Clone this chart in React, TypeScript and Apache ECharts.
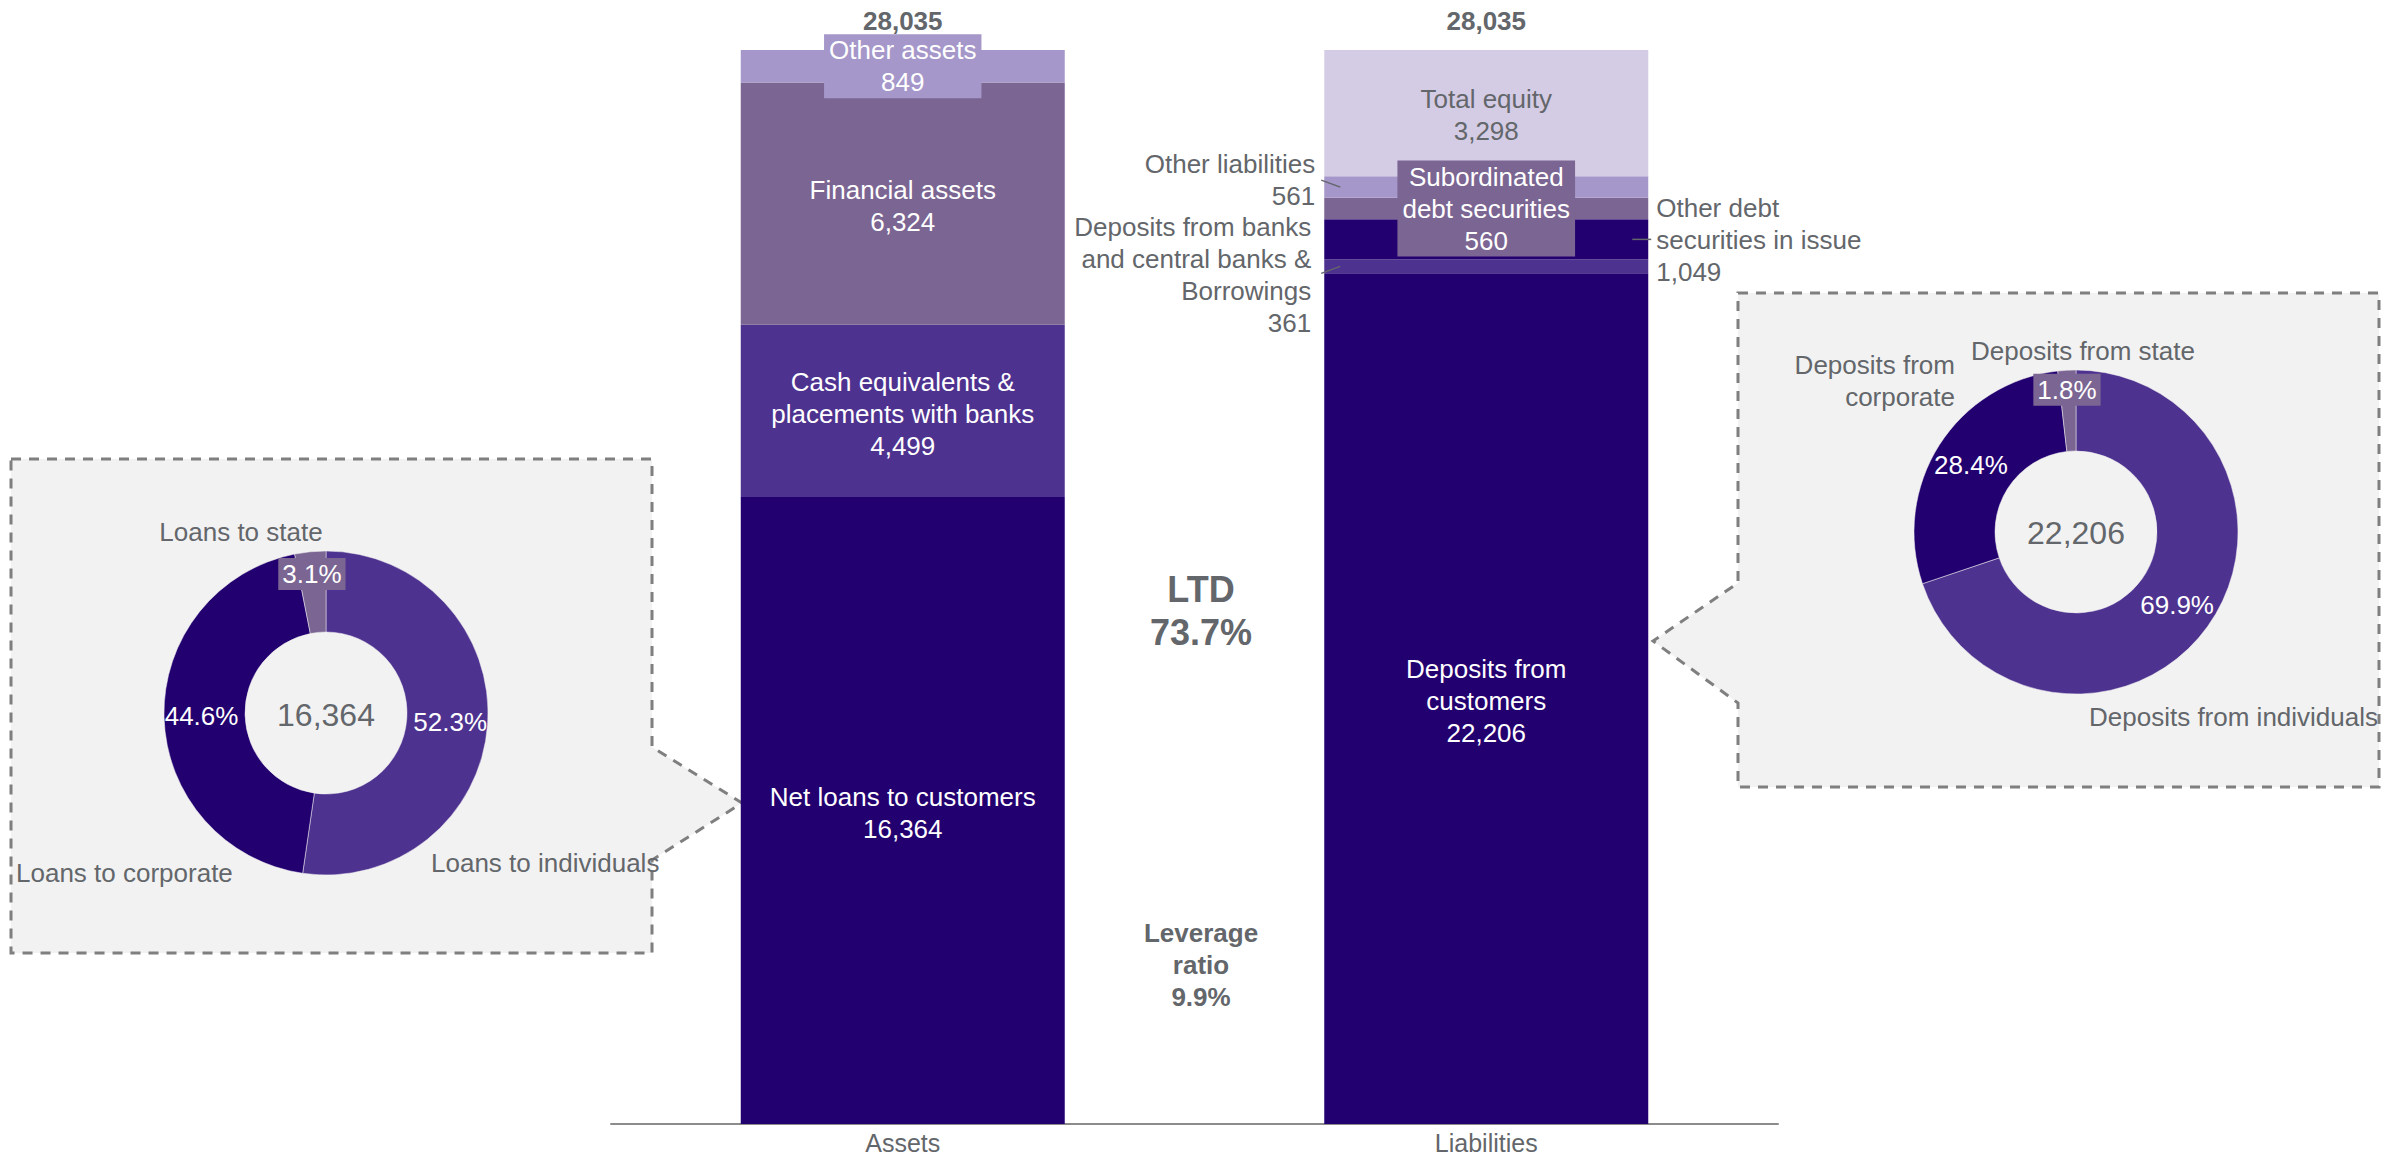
import React, { useEffect, useRef } from 'react';
import * as echarts from 'echarts';

// ---------- data ----------
const categories = ['Assets', 'Liabilities'];
const totals = [28035, 28035];

const assetNames = ['Net loans to customers', 'Cash equivalents &\nplacements with banks', 'Financial assets', 'Other assets'];
const assetValues = [16364, 4499, 6324, 849];

const liabilityNames = [
  'Deposits from\ncustomers',
  'Deposits from banks\nand central banks &\nBorrowings',
  'Other debt\nsecurities in issue',
  'Subordinated\ndebt securities',
  'Other liabilities',
  'Total equity',
];
const liabilityValues = [22206, 361, 1049, 560, 561, 3298];

const loanNames = ['Loans to individuals', 'Loans to corporate', 'Loans to state'];
const loanShares = [52.3, 44.6, 3.1];
const loanTotal = 16364;

const depositNames = ['Deposits from individuals', 'Deposits from\ncorporate', 'Deposits from state'];
const depositShares = [69.9, 28.4, 1.8];
const depositTotal = 22206;

const ratioNames = ['LTD', 'Leverage\nratio'];
const ratioValues = [73.7, 9.9];

// ---------- styles ----------
const DARK = '#230070';
const MID = '#4E3290';
const MUTED = '#7B6592';
const LIGHT = '#A597C9';
const PALE = '#D4CCE5';
const GRAY = '#63666A';
const PANEL = '#F2F2F2';
const BORDER = '#7F7F7F';
const FONT = '"Liberation Sans", Arial, Helvetica, sans-serif';
const BAR_WIDTH = 324;

const assetColors = [DARK, MID, MUTED, LIGHT];
const liabilityColors = [DARK, MID, DARK, MUTED, LIGHT, PALE];
const pieColors = [MID, DARK, MUTED];

const fmt = (v: number) => v.toLocaleString('en-US');

const baseLabel = { show: true, fontSize: 26, lineHeight: 32, fontFamily: FONT };

const assetLabels: any[] = [
  { position: 'inside', color: '#fff', offset: [0, 2] },
  { position: 'inside', color: '#fff', offset: [0, 3] },
  { position: 'inside', color: '#fff', offset: [0, 2] },
  { position: 'inside', color: '#fff', backgroundColor: LIGHT, padding: [0, 5] },
];
const liabilityLabels: any[] = [
  { position: 'inside', color: '#fff', offset: [0, 2] },
  { position: 'left', color: GRAY, distance: 13, offset: [0, 9] },
  { position: 'right', color: GRAY, distance: 8, offset: [0, 1] },
  { position: 'inside', color: '#fff', backgroundColor: MUTED, padding: [0, 5] },
  { position: 'left', color: GRAY, distance: 9, offset: [0, -7] },
  { position: 'inside', color: GRAY, offset: [0, 2] },
];

function buildOption() {
  const series: any[] = [];
  assetNames.forEach((n, i) => {
    series.push({
      type: 'bar',
      name: n,
      stack: 'bs',
      barWidth: BAR_WIDTH,
      silent: true,
      data: [assetValues[i], '-'],
      itemStyle: { color: assetColors[i] },
      label: { ...baseLabel, ...assetLabels[i], formatter: n + '\n' + fmt(assetValues[i]) },
    });
  });
  liabilityNames.forEach((n, i) => {
    series.push({
      type: 'bar',
      name: n,
      stack: 'bs',
      barWidth: BAR_WIDTH,
      silent: true,
      data: ['-', liabilityValues[i]],
      itemStyle: { color: liabilityColors[i] },
      label: { ...baseLabel, ...liabilityLabels[i], formatter: n + '\n' + fmt(liabilityValues[i]) },
    });
  });
  series.push({
    type: 'bar',
    name: 'Total',
    stack: 'bs',
    barWidth: BAR_WIDTH,
    silent: true,
    clip: false,
    z: 5,
    data: [0, 0],
    itemStyle: { color: 'rgba(0,0,0,0)' },
    label: {
      show: true,
      position: 'top',
      distance: 16,
      fontSize: 26,
      fontWeight: 'bold',
      fontFamily: FONT,
      color: GRAY,
      formatter: (p: any) => fmt(totals[p.dataIndex]),
    },
  });

  const pie = (center: number[], names: string[], shares: number[], stateOffset: number[]) => ({
    type: 'pie',
    center,
    radius: [81, 162],
    startAngle: 90,
    clockwise: true,
    avoidLabelOverlap: false,
    silent: true,
    z: 3,
    labelLine: { show: false },
    itemStyle: { borderWidth: 1, borderColor: 'rgba(242,242,242,0.5)' },
    label: {
      show: true,
      position: 'inside',
      rotate: 0,
      color: '#fff',
      fontSize: 26,
      lineHeight: 32,
      fontFamily: FONT,
      formatter: (p: any) => p.value.toFixed(1) + '%',
    },
    data: names.map((n, i) => ({
      name: n,
      value: shares[i],
      itemStyle: { color: pieColors[i] },
      label: i === 2 ? { backgroundColor: MUTED, padding: [0, 4], offset: stateOffset } : undefined,
    })),
  });
  series.push(pie([326, 713], loanNames, loanShares, [-2, -15]));
  series.push(pie([2076, 532], depositNames, depositShares, [-2, -18]));

  return {
    animation: false,
    backgroundColor: '#ffffff',
    grid: { left: 611, right: 624, top: 50, bottom: 36, containLabel: false },
    xAxis: {
      type: 'category',
      data: categories,
      axisTick: { show: false },
      axisLine: { lineStyle: { color: '#8C8C8C', width: 2 } },
      axisLabel: { fontSize: 25, lineHeight: 26, color: GRAY, fontFamily: FONT, margin: 6 },
    },
    yAxis: { type: 'value', min: 0, max: totals[0], show: false, splitLine: { show: false } },
    series,
  };
}

const txt = (text: string, x: number, y: number, opts: any = {}) => ({
  type: 'text',
  x,
  y,
  z: 100,
  silent: true,
  style: {
    text,
    fill: GRAY,
    fontSize: 26,
    lineHeight: 32,
    fontFamily: FONT,
    align: 'center',
    verticalAlign: 'middle',
    ...opts,
  },
});

export default function App() {
  const ref = useRef<HTMLDivElement>(null);
  useEffect(() => {
    const el = ref.current;
    if (!el) return;
    const chart = echarts.init(el, null, { renderer: 'svg' });
    chart.setOption(buildOption() as any);

    // leader lines from the library's own scale
    const toPx = (cat: string, v: number) => chart.convertToPixel({ gridIndex: 0 } as any, [cat, v]) as number[];
    const cum: number[] = [];
    let s = 0;
    liabilityValues.forEach((v) => { cum.push(s); s += v; });
    const cx = toPx(categories[1], 0)[0];
    const left = cx - BAR_WIDTH / 2;
    const right = cx + BAR_WIDTH / 2;
    const yMid = (i: number) => toPx(categories[1], cum[i] + liabilityValues[i] / 2)[1];
    const lineStyle = { stroke: GRAY, lineWidth: 1.5 };
    const leader = (x1: number, y1: number, x2: number, y2: number) => ({
      type: 'line', z: 100, silent: true, shape: { x1, y1, x2, y2 }, style: lineStyle,
    });

    const panelStyle = { fill: PANEL, stroke: BORDER, lineWidth: 3, lineDash: [10, 8] };
    const graphic: any[] = [
      {
        type: 'polygon', z: 0, silent: true,
        shape: { points: [[11, 459], [652, 459], [652, 747], [742, 803], [652, 860], [652, 953], [11, 953]] },
        style: panelStyle,
      },
      {
        type: 'polygon', z: 0, silent: true,
        shape: { points: [[1738, 293], [2379, 293], [2379, 787], [1738, 787], [1738, 703], [1653, 641], [1738, 583]] },
        style: panelStyle,
      },
      leader(left + 16, yMid(4), left - 3, yMid(4) - 7),
      leader(left + 16, yMid(1), left - 3, yMid(1) + 7),
      leader(right - 16, yMid(2), right + 3, yMid(2)),
      // donut names
      txt(loanNames[2], 241, 532),
      txt(loanNames[0], 431, 863, { align: 'left' }),
      txt(loanNames[1], 16, 873, { align: 'left' }),
      txt(depositNames[2], 2083, 351),
      txt(depositNames[1], 1955, 381, { align: 'right' }),
      txt(depositNames[0], 2089, 717, { align: 'left' }),
      // donut centers
      txt(fmt(loanTotal), 326, 715, { fontSize: 32, lineHeight: 36 }),
      txt(fmt(depositTotal), 2076, 533, { fontSize: 32, lineHeight: 36 }),
      // ratios
      txt(ratioNames[0] + '\n' + ratioValues[0].toFixed(1) + '%', 1201, 611, { fontSize: 36, lineHeight: 43, fontWeight: 'bold' }),
      txt(ratioNames[1] + '\n' + ratioValues[1].toFixed(1) + '%', 1201, 965, { fontSize: 26, lineHeight: 32, fontWeight: 'bold' }),
    ];
    chart.setOption({ graphic } as any);
    return () => chart.dispose();
  }, []);
  return (
    <div
      ref={ref}
      style={{ position: 'fixed', left: 0, top: 0, width: 2402, height: 1160, background: '#fff' }}
    />
  );
}
